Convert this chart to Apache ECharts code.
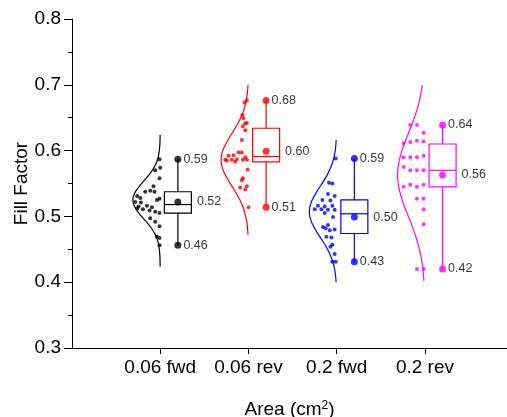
<!DOCTYPE html>
<html><head><meta charset="utf-8">
<script src="https://cdn.jsdelivr.net/npm/echarts@6/dist/echarts.min.js"></script>
<style>html,body{margin:0;padding:0;background:#fff}#c{width:507px;height:417px}</style>
</head><body><div id="c"></div>
<script>
const categories = ['0.06 fwd', '0.06 rev', '0.2 fwd', '0.2 rev'];
const colors = ['#000000', '#ff0000', '#0000ff', '#ff00ff'];
const yTitle = 'Fill Factor';

// box statistics
const boxMin = [0.456, 0.514, 0.431, 0.420];
const boxQ1 = [0.505, 0.583, 0.474, 0.545];
const boxMedian = [0.518, 0.591, 0.504, 0.570];
const boxQ3 = [0.5375, 0.634, 0.525, 0.610];
const boxMax = [0.587, 0.676, 0.588, 0.639];
const boxMean = [0.522, 0.599, 0.499, 0.563];

// raw points (values) and horizontal jitter (axis units, left of category)
const fwd006Values = [0.587,0.574,0.570,0.558,0.546,0.539,0.5375,0.5375,0.531,0.528,0.527,0.525,0.522,0.521,0.516,0.515,0.512,0.511,0.514,0.509,0.507,0.505,0.497,0.492,0.485,0.469,0.467,0.456];
const fwd006Jitter = [-0.008,0,-0.057,-0.008,-0.076,-0.113,-0.17,-0.065,-0.262,-0.226,-0.008,-0.037,-0.283,-0.219,-0.151,-0.246,-0.26,-0.196,-0.094,-0.121,-0.057,-0.008,-0.113,-0.057,-0.008,-0.037,-0.008,-0.008];
const rev006Values = [0.676,0.673,0.654,0.649,0.641,0.642,0.637,0.631,0.616,0.597,0.597,0.593,0.592,0.590,0.586,0.586,0.587,0.586,0.586,0.585,0.583,0.571,0.558,0.555,0.544,0.546,0.541,0.514];
const rev006Jitter = [-0.018,-0.045,-0.07,-0.057,-0.037,-0.018,-0.063,-0.037,-0.075,-0.113,-0.075,-0.17,-0.226,-0.037,-0.264,-0.188,-0.131,-0.063,-0.018,-0.245,-0.151,-0.011,-0.063,-0.075,-0.094,-0.018,-0.037,0];
const fwd02Values = [0.588,0.551,0.550,0.534,0.531,0.525,0.524,0.516,0.515,0.516,0.511,0.511,0.510,0.505,0.510,0.499,0.487,0.484,0.482,0.479,0.480,0.469,0.468,0.457,0.454,0.443,0.431,0.431];
const fwd02Jitter = [-0.011,-0.087,-0.049,-0.099,-0.023,-0.162,-0.071,-0.212,-0.136,-0.049,-0.249,-0.173,-0.099,-0.136,-0.023,-0.042,-0.099,-0.155,-0.125,-0.079,-0.023,-0.117,-0.06,-0.049,-0.071,-0.023,-0.049,-0.011];
const rev02Values = [0.639,0.639,0.627,0.611,0.613,0.615,0.614,0.590,0.590,0.590,0.592,0.575,0.570,0.570,0.570,0.545,0.548,0.545,0.548,0.527,0.527,0.511,0.488,0.420,0.420];
const rev02Jitter = [-0.166,-0.091,-0.015,-0.241,-0.166,-0.091,-0.015,-0.241,-0.166,-0.091,-0.015,-0.241,-0.166,-0.091,-0.015,-0.241,-0.166,-0.091,-0.015,-0.091,-0.015,-0.015,-0.015,-0.091,-0.015];

// half-violin outlines: [value, half-width in axis units]
const fwd006Curve = [[0.624,0.001],[0.610,0.004],[0.598,0.012],[0.588,0.027],[0.578,0.055],[0.568,0.099],[0.558,0.159],[0.548,0.224],[0.538,0.279],[0.530,0.305],[0.525,0.310],[0.520,0.305],[0.512,0.279],[0.502,0.224],[0.492,0.159],[0.482,0.099],[0.472,0.055],[0.462,0.027],[0.452,0.012],[0.440,0.004],[0.424,0.001]];
const rev006Curve = [[0.700,0.005],[0.688,0.012],[0.674,0.028],[0.660,0.056],[0.646,0.101],[0.632,0.160],[0.618,0.225],[0.604,0.280],[0.594,0.304],[0.586,0.310],[0.578,0.304],[0.568,0.280],[0.554,0.225],[0.540,0.160],[0.526,0.101],[0.512,0.056],[0.498,0.028],[0.484,0.012],[0.472,0.005]];
const fwd02Curve = [[0.616,0.006],[0.604,0.013],[0.592,0.027],[0.578,0.057],[0.565,0.100],[0.551,0.161],[0.538,0.224],[0.524,0.281],[0.515,0.303],[0.507,0.310],[0.499,0.303],[0.490,0.281],[0.476,0.224],[0.463,0.161],[0.449,0.100],[0.436,0.057],[0.422,0.027],[0.410,0.013],[0.400,0.007]];
const rev02Curve = [[0.700,0.029],[0.685,0.048],[0.670,0.073],[0.655,0.107],[0.640,0.147],[0.625,0.191],[0.610,0.235],[0.595,0.272],[0.580,0.299],[0.563,0.310],[0.546,0.299],[0.531,0.272],[0.516,0.235],[0.501,0.191],[0.486,0.147],[0.471,0.107],[0.456,0.073],[0.441,0.048],[0.426,0.029],[0.414,0.019],[0.402,0.012]];

const groupValues = [fwd006Values, rev006Values, fwd02Values, rev02Values];
const groupJitter = [fwd006Jitter, rev006Jitter, fwd02Jitter, rev02Jitter];
const groupCurves = [fwd006Curve, rev006Curve, fwd02Curve, rev02Curve];

const boxOffset = 0.2, boxHalf = 0.153;
const FONT = '"Liberation Sans", Arial, Helvetica, sans-serif';
const GRID = { left: 72, right: 0, top: 19, bottom: 69 };

const series = [];
categories.forEach((c, i) => {
  const pos = i + 1;
  series.push({
    type: 'line', data: groupCurves[i].map(([v, w]) => [pos - w, v]),
    smooth: 0.3, symbol: 'none', silent: true,
    lineStyle: { color: colors[i], width: 1.2 }, z: 2
  });
  series.push({
    type: 'scatter', data: groupValues[i].map((v, k) => [pos + groupJitter[i][k], v]),
    symbol: 'circle', symbolSize: 4, itemStyle: { color: colors[i] }, silent: true, z: 3
  });
  series.push({
    type: 'scatter', data: [[pos + boxOffset, boxMax[i]], [pos + boxOffset, boxMin[i]]],
    symbol: 'circle', symbolSize: 7, itemStyle: { color: colors[i] }, silent: true, z: 5,
    label: { show: true, position: 'right', distance: 2, color: '#000', fontSize: 12.5, fontFamily: FONT,
      formatter: p => p.value[1].toFixed(2) }
  });
  series.push({
    type: 'scatter', data: [[pos + boxOffset, boxMean[i]]],
    symbol: 'circle', symbolSize: 7, itemStyle: { color: colors[i] }, silent: true, z: 5,
    label: { show: true, position: 'right', distance: 15.5, color: '#000', fontSize: 12.5, fontFamily: FONT,
      formatter: p => p.value[1].toFixed(2) }
  });
});

series.push({
  type: 'custom', silent: true, z: 4,
  data: categories.map((c, i) => [i + 1 + boxOffset, boxMin[i], boxQ1[i], boxMedian[i], boxQ3[i], boxMax[i]]),
  encode: { x: 0, y: [1, 2, 3, 4, 5] },
  renderItem: (params, api) => {
    const x = api.value(0), mn = api.value(1), q1 = api.value(2), md = api.value(3), q3 = api.value(4), mx = api.value(5);
    const tl = api.coord([x - boxHalf, q3]), br = api.coord([x + boxHalf, q1]);
    const mL = api.coord([x - boxHalf, md]), mR = api.coord([x + boxHalf, md]);
    const wTop = api.coord([x, mx]), wQ3 = api.coord([x, q3]), wQ1 = api.coord([x, q1]), wBot = api.coord([x, mn]);
    const color = colors[params.dataIndex];
    const st = { stroke: color, lineWidth: 1.2, fill: 'none' };
    return { type: 'group', children: [
      { type: 'rect', shape: { x: tl[0], y: tl[1], width: br[0] - tl[0], height: br[1] - tl[1] }, style: st },
      { type: 'line', shape: { x1: mL[0], y1: mL[1], x2: mR[0], y2: mR[1] }, style: st },
      { type: 'line', shape: { x1: wTop[0], y1: wTop[1], x2: wQ3[0], y2: wQ3[1] }, style: st },
      { type: 'line', shape: { x1: wQ1[0], y1: wQ1[1], x2: wBot[0], y2: wBot[1] }, style: st }
    ] };
  }
});

const chart = echarts.init(document.getElementById('c'), null, { renderer: 'canvas' });
const H = 417;
chart.setOption({
  animation: false,
  backgroundColor: '#fff',
  textStyle: { fontFamily: FONT },
  grid: Object.assign({ containLabel: false, outerBoundsMode: 'none' }, GRID),
  graphic: [{
    type: 'text', silent: true,
    x: 22, y: GRID.top + (H - GRID.top - GRID.bottom) / 2, rotation: Math.PI / 2,
    style: { text: yTitle, fontSize: 19, fontFamily: FONT, fill: '#000', align: 'center', verticalAlign: 'middle' }
  }],
  xAxis: {
    type: 'value', min: 0, max: 4.93, interval: 1,
    axisLine: { show: true, onZero: false, lineStyle: { color: '#000', width: 1 } },
    axisTick: { show: true, customValues: [1, 2, 3, 4], length: 6, lineStyle: { color: '#000' } },
    axisLabel: { customValues: [1, 2, 3, 4], fontSize: 19, color: '#000', margin: 10,
      formatter: v => categories[Math.round(v) - 1] || '' },
    splitLine: { show: false },
    name: 'Area (cm{sup|2})', nameLocation: 'middle', nameGap: 52,
    nameTextStyle: { fontSize: 19, color: '#000', fontFamily: FONT,
      rich: { sup: { fontSize: 12, verticalAlign: 'top', padding: [0, 0, 8, 0], color: '#000', fontFamily: FONT } } }
  },
  yAxis: {
    type: 'value', min: 0.3, max: 0.8, interval: 0.1,
    axisLine: { show: true, onZero: false, lineStyle: { color: '#000', width: 1 } },
    axisTick: { show: true, length: 8, lineStyle: { color: '#000' } },
    minorTick: { show: true, splitNumber: 2, length: 4, lineStyle: { color: '#000' } },
    axisLabel: { fontSize: 19, color: '#000', margin: 11, formatter: v => v.toFixed(1) },
    splitLine: { show: false }
  },
  series
});
</script></body></html>
